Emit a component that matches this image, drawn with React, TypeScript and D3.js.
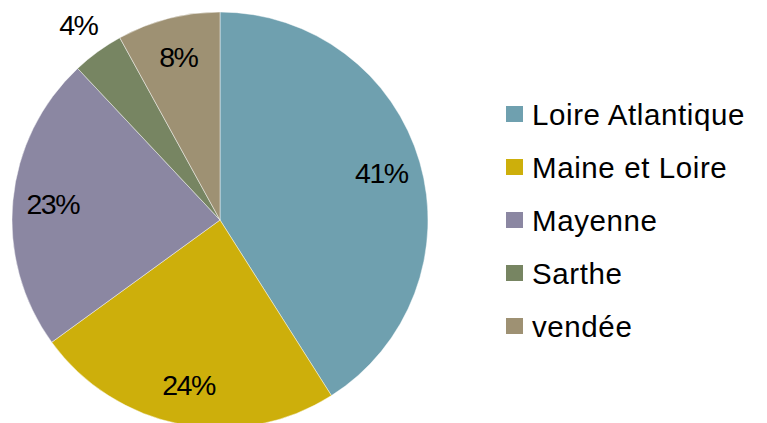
import React from "react";
import * as d3 from "d3";

const categories = ["Loire Atlantique", "Maine et Loire", "Mayenne", "Sarthe", "vendée"];
const values = [41, 24, 23, 4, 8];
const labels = ["41%", "24%", "23%", "4%", "8%"];
const colors = ["#6FA0AF", "#CDAF0B", "#8B87A2", "#778562", "#9E9173"];

const W = 767;
const H = 423;
const cx = 220;
const cy = 220;
const R = 208;
const FONT = "'Liberation Sans', Arial, sans-serif";

export default function App() {
  const data = categories.map((c, i) => ({ c, v: values[i], l: labels[i], col: colors[i] }));
  const pie = d3.pie<any>().sort(null).value((d) => d.v);
  const arcs = pie(data);
  const arc = d3.arc<any>().innerRadius(0).outerRadius(R);
  const labelArcIn = d3.arc<any>().innerRadius(168).outerRadius(168);
  const labelArcOut = d3.arc<any>().innerRadius(241).outerRadius(241);
  const legendY = d3.scalePoint<string>().domain(categories).range([114, 326]);

  return (
    <svg width={W} height={H} style={{ position: "absolute", left: 0, top: 0 }} fontFamily={FONT}>
      <rect width={W} height={H} fill="#fff" />
      <g transform={`translate(${cx},${cy})`}>
        {arcs.map((a, i) => (
          <path key={i} d={arc(a) as string} fill={a.data.col} stroke="#ffffff" strokeOpacity={0.6} strokeWidth={0.75} />
        ))}
        {arcs.map((a, i) => {
          const p = a.data.v < 5 ? labelArcOut.centroid(a) : labelArcIn.centroid(a);
          return (
            <text key={i} x={p[0]} y={p[1]} textAnchor="middle" dominantBaseline="central" fontSize={28.5} letterSpacing={-1.5} fill="#000">
              {a.data.l}
            </text>
          );
        })}
      </g>
      <g>
        {categories.map((c, i) => (
          <g key={c} transform={`translate(506,${legendY(c)})`}>
            <rect x={0} y={-8} width={17} height={16} fill={colors[i]} />
            <text x={26} y={11} fontSize={29.5} letterSpacing={0.6} fill="#000">
              {c}
            </text>
          </g>
        ))}
      </g>
    </svg>
  );
}
